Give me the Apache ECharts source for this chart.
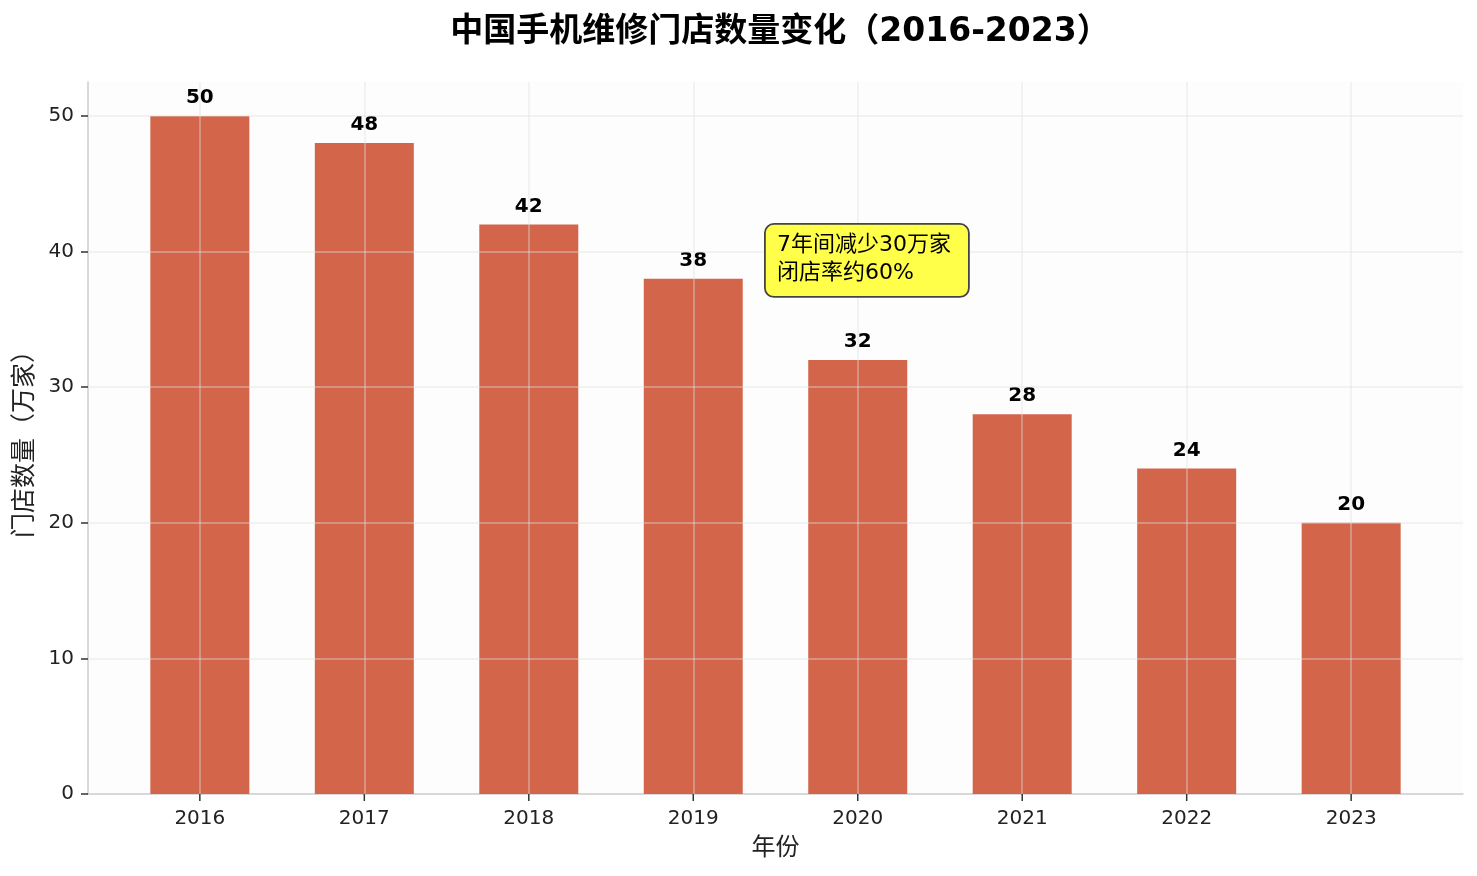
<!DOCTYPE html>
<html>
<head>
<meta charset="utf-8">
<script src="https://cdn.jsdelivr.net/npm/echarts@6/dist/echarts.min.js"></script>
<style>
html, body { margin: 0; padding: 0; background: #fff; }
#main { width: 1477px; height: 876px; }
</style>
</head>
<body>
<div id="main"></div>
<script>
// 数据
var years = ['2016', '2017', '2018', '2019', '2020', '2021', '2022', '2023'];
var stores = [50, 48, 42, 38, 32, 28, 24, 20];
var yTicks = [0, 10, 20, 30, 40, 50];
var note = ['7年间减少30万家', '闭店率约60%'];

var FONT = 'DejaVu Sans, Noto Sans CJK SC, sans-serif';
var X_MIN = -0.68, X_MAX = 7.68, Y_MAX = 52.5;
var chart = echarts.init(document.getElementById('main'));

// 柱子用数值轴，x 范围留出和原图一样的边距
var xIdx = years.map(function (y, i) { return i; });
var barData = stores.map(function (v, i) { return [i, v]; });
// 网格线画在柱子上面，用 markLine 的起止点
var gridLines = xIdx.map(function (i) {
    return [{ coord: [i, 0] }, { coord: [i, Y_MAX] }];
}).concat(yTicks.slice(1).map(function (v) {
    return [{ coord: [X_MIN, v] }, { coord: [X_MAX, v] }];
}));

var option = {
    backgroundColor: '#ffffff',
    animation: false,
    textStyle: { fontFamily: FONT },
    title: {
        text: '中国手机维修门店数量变化（2016-2023）',
        left: 775,
        top: 11,
        textAlign: 'center',
        textStyle: { fontFamily: FONT, fontSize: 33, fontWeight: 'bold', color: '#000' }
    },
    grid: { left: 88, right: 14, top: 82, bottom: 82, show: true, backgroundColor: '#fdfdfd', borderWidth: 0 },
    xAxis: {
        type: 'value',
        min: X_MIN, max: X_MAX,
        name: '年份',
        nameLocation: 'middle',
        nameGap: 43,
        nameTextStyle: { fontSize: 24, color: '#222', fontFamily: FONT },
        axisLine: { show: true, onZero: false, lineStyle: { color: '#cccccc', width: 1.5 } },
        axisTick: { show: false },
        axisLabel: {
            fontSize: 20, color: '#222', margin: 15,
            customValues: xIdx,
            formatter: function (v) { return years[Math.round(v)]; }
        },
        splitLine: { show: false }
    },
    yAxis: {
        type: 'value',
        min: 0, max: Y_MAX, interval: 10,
        name: '门店数量（万家）',
        nameLocation: 'middle',
        nameGap: 46,
        nameTextStyle: { fontSize: 25, color: '#222', fontFamily: FONT },
        axisLine: { show: true, onZero: false, lineStyle: { color: '#cccccc', width: 1.5 } },
        axisTick: { show: true, length: 7, customValues: yTicks, lineStyle: { color: '#333', width: 1.5 } },
        axisLabel: { fontSize: 20, color: '#222', margin: 14, customValues: yTicks },
        splitLine: { show: false }
    },
    series: [{
        type: 'bar',
        data: barData,
        barWidth: 99,
        itemStyle: { color: '#d2654a' },
        label: {
            show: true, position: 'top', distance: 8,
            fontSize: 20, fontWeight: 'bold', color: '#000', fontFamily: FONT,
            formatter: function (p) { return p.value[1]; }
        },
        markLine: {
            silent: true,
            symbol: ['none', 'none'],
            label: { show: false },
            lineStyle: { color: 'rgba(225,225,225,0.5)', type: 'solid', width: 1.5 },
            data: gridLines
        }
    }, {
        // x 轴刻度：轴下方 7px 的小竖线
        type: 'custom',
        clip: false,
        silent: true,
        z: 20,
        data: xIdx.map(function (i) { return [i, 0]; }),
        renderItem: function (params, api) {
            var p = api.coord([api.value(0), 0]);
            return {
                type: 'line',
                shape: { x1: p[0], y1: p[1], x2: p[0], y2: p[1] + 7 },
                style: { stroke: '#333', lineWidth: 1.5 }
            };
        }
    }],
    graphic: [{
        type: 'rect',
        left: 764, top: 223,
        shape: { width: 204, height: 73, r: 9 },
        style: { fill: '#ffff4a', stroke: '#444', lineWidth: 1.8 },
        z: 10
    }, {
        type: 'text',
        left: 777, top: 231,
        style: {
            text: note.join('\n'),
            font: '22px ' + FONT,
            fill: '#000',
            lineHeight: 28
        },
        z: 11
    }]
};
chart.setOption(option);
</script>
</body>
</html>
